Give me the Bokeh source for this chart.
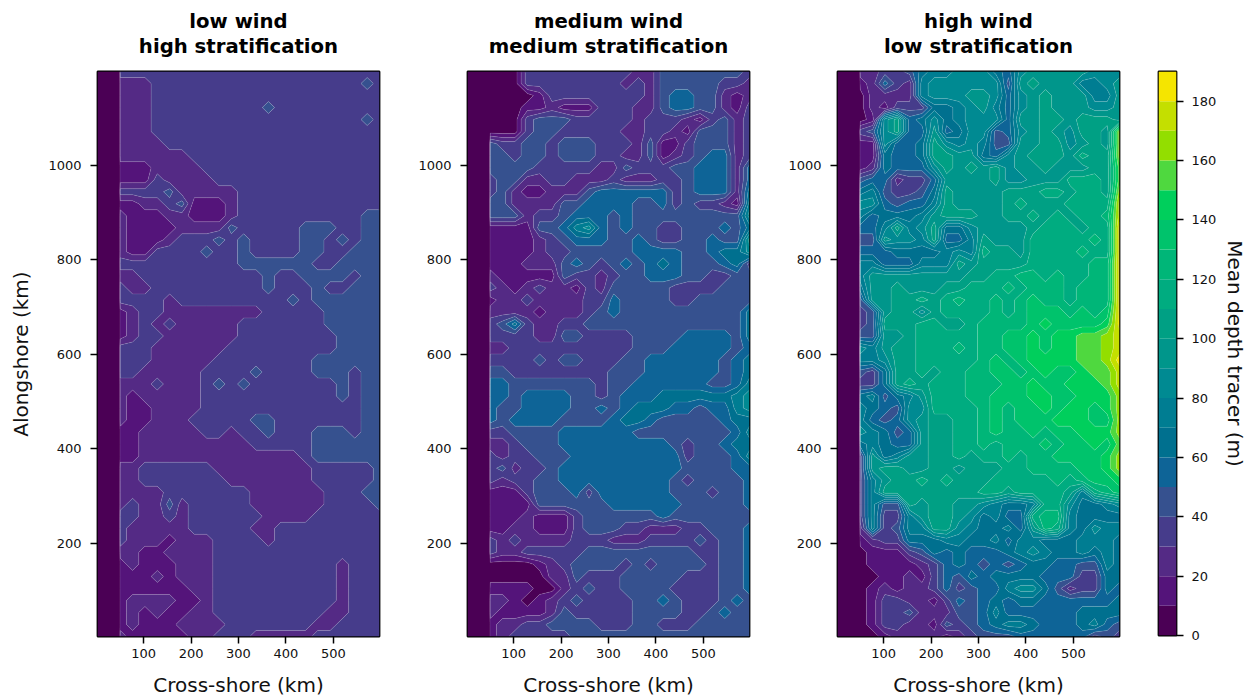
import numpy as np
from bokeh.embed import file_html
from bokeh.layouts import row
from bokeh.models import Range1d, Title, FixedTicker
from bokeh.plotting import figure
from bokeh.resources import INLINE

LEVELS = list(range(0, 200, 10))
PALETTE = ["#4B0055", "#54147A", "#542A85", "#463C8B", "#36518F", "#0E6497", "#00708F",
           "#007D92", "#008A92", "#00968B", "#00A084", "#00AC80", "#00B678", "#00C36C",
           "#00CF5C", "#4FD83F", "#93DE00", "#C4DF00", "#F5E500"]
TITLES = [("low wind", "high stratification"), ("medium wind", "medium stratification"),
          ("high wind", "low stratification")]
X_TICKS = [100, 200, 300, 400, 500]
Y_TICKS = [200, 400, 600, 800, 1000]
CB_TICKS = list(range(0, 200, 20))

# depth bands, top row first (one base-36 digit per cell = band number)
LOW = """
0033 3333 3333 3333 3333 3333
0022 2333 3333 3333 3333 3343
0022 2333 3333 3333 3333 3333
0022 2333 3333 3343 3333 3333
0022 2333 3333 3333 3333 3343
0022 2333 3333 3333 3333 3333
0022 2233 3333 3333 3333 3333
0022 2222 3333 3333 3333 3333
0011 1222 2333 3333 3333 3333
0011 1322 2233 3333 3333 3333
0033 3342 2222 3333 3333 3333
0011 2234 1112 3333 3333 3333
0021 1122 1112 3333 3333 3344
0021 1112 2224 3333 3444 3344
0021 1123 3343 4333 3443 4344
0021 1333 3433 4333 3443 3444
0033 3333 3333 4444 4433 4444
0022 3333 3333 3343 3444 4344
0032 2333 3333 3343 3343 3444
0033 3323 3333 3333 4344 4444
0012 3322 2222 2233 3334 4444
0012 3232 2222 3333 3334 4444
0012 3322 2222 3333 3333 4444
0033 3222 2223 3333 3333 4444
0033 3222 2233 3333 3344 4444
0033 2222 2333 3433 3344 4344
0022 2322 2343 4333 3333 4344
0021 2222 2333 3333 3333 4344
0021 1222 2333 3333 3333 3344
0021 1222 3333 3443 3333 3344
0011 2222 2332 3343 3344 4344
0011 2222 2222 2333 3344 4444
0011 2222 2222 2222 2344 4444
0022 3333 3322 2222 2233 3334
0022 3333 3332 2222 2233 3334
0022 2233 3333 3222 2223 3344
0023 2242 3333 3222 2223 3334
0033 2232 3333 3322 2233 3333
0032 2222 3333 3223 3333 3333
0032 2212 2233 3323 3333 3333
0022 1122 2233 3333 3333 3333
0012 1112 2233 3333 3333 2333
0011 1212 2233 3333 3333 2333
0011 1111 2233 3333 3333 2333
0012 2221 1233 3333 3333 2333
0012 1211 2233 3333 3332 2333
0012 1112 2223 3333 3322 3333
0021 1111 2233 3222 2233 3333
"""
MEDIUM = """
0000 0333 3333 3322 4444 4443
0000 0333 3333 3232 4444 4332
0000 0013 3333 3332 4554 4212
0000 0112 1113 3322 4554 4213
0000 0344 4333 3323 3321 3423
0000 0344 3333 3223 3214 4423
0043 3443 4443 3324 1134 4423
0044 3443 4443 3224 1234 5523
0044 4433 3332 2433 3445 5525
0034 4223 3222 3222 3345 5525
0034 2112 2245 5555 5345 5526
0044 2222 4455 5544 5343 3217
0044 4233 4555 4544 4444 4448
0011 1144 5785 4544 3344 4546
0011 1123 4555 4454 3344 5449
0011 1123 3444 4455 5544 5668
0011 1222 4543 4545 6544 4563
0021 1111 4332 3445 5544 3344
0032 1232 2132 4444 4333 3444
0012 2322 2233 5444 4334 4444
0022 2212 2234 5444 4444 4446
0034 6322 3344 4444 4444 4446
0033 3322 4433 3344 4455 5546
0022 3333 3333 3344 4555 5545
0033 3343 4433 3445 5555 5456
0044 3333 3333 4445 5555 5456
0055 4444 4443 4455 5555 4457
0055 4555 5443 4555 6666 6678
0054 4555 5445 4566 6554 5578
0054 5555 4444 5665 4444 4566
0033 4444 5555 5544 4444 4457
0022 3444 5555 5555 5434 4566
0032 3344 4555 5555 5534 4457
0034 2334 5555 5555 5544 4455
0032 3344 5555 5555 5434 4445
0011 1344 4535 5555 5444 3445
0011 1144 4444 5555 5544 4445
0011 1211 1344 4444 5444 4444
0011 2211 1344 4332 2233 4445
0032 3222 2333 2223 3334 3445
0032 2333 3344 4444 4443 3445
0000 0012 3444 4343 4444 3445
0000 0002 2433 3444 4433 3445
0011 1100 2343 3444 4333 3445
0022 1012 3433 3344 5433 3454
0021 1112 4333 3344 4433 4544
0012 2334 4443 3344 3334 4444
0012 3333 3444 4444 4444 4444
"""
HIGH = """
0022 3346 7788 8658 9999 9888
0012 5327 8888 8849 a999 7789
0002 2227 8889 9858 9a99 9779
0002 1333 6678 9758 9a99 9889
0001 8a56 8678 8859 9aa9 aaa9
0034 8a55 9568 8458 9a98 aa9g
0011 8556 a878 7449 9aa8 9a9g
0011 6556 aa99 6589 aaa9 baag
0012 6555 8a9a 9a89 9a99 9aaf
0045 5233 5999 9a88 999b bbaf
0067 4334 6a99 99aa abba bbag
0088 5455 7a99 99ab aaab bbbh
0075 6667 9aaa 99aa baba bbch
0055 7a78 a668 9999 abbb abbi
0044 9887 a557 a999 bbbb bcbi
0055 5666 6787 baa9 bbbb cbbi
0077 5557 77a9 aaaa bbbb bcci
0079 9999 999a abbc cbcb bcci
0069 9a99 9aab bbcb cccb ccci
0049 9aab abcb bcbc dccb ccci
0034 9aa8 abbb bcbc dddc dcdi
0034 aaab baab cccc dedd ddei
0044 99ab bbbb ccdd edee ffgh
0087 9aab bbcb ccdd edee ffgh
0077 8aab bbbb cdcd eeee ffgi
0043 6aab abbc cddc dedd effh
0033 6aba bbbc ccdd edde eefh
0067 4679 bbbc cddd eedd eeeg
0076 5488 bbbb cdcd dede edeg
0075 4589 aabb cdcd ddee eddg
0087 6459 aabb cdcc dcdd eeeg
0067 6559 aabb cbcc cdcd dedf
0039 6799 aaba bbcb ccdd ddeg
0039 aa99 aa9a aabb cccc ddeg
0037 9aab abaa abbb bbcb cdde
0037 aaaa aaaa bbab bbba 7bcd
0037 44a9 aa99 8766 7bb8 6678
0037 3379 aa98 6755 bcc7 6666
0027 3477 aa87 6675 9cb7 6877
0012 3366 6776 6757 7666 7776
0001 1134 6565 5567 8766 7676
0001 1112 3565 4545 6655 4476
0000 1121 3546 5666 6555 3366
0001 2122 3534 5578 8642 3365
0001 3322 1354 5656 6555 5556
0001 3342 2244 5755 5555 6666
0001 3322 1434 5677 6555 6754
0000 1222 2123 4445 5555 5343
"""


def field(text):
    rows = [r.replace(" ", "") for r in text.split("\n") if r.strip()]
    assert all(len(r) == 24 for r in rows), [len(r) for r in rows]
    assert len(rows) == 48, len(rows)
    return np.array([[int(c, 36) * 10 + 5 for c in r] for r in rows[::-1]], dtype=float)


XS = np.r_[2.5, 49.5, np.linspace(50.5, 597.5, 22)]
YS = np.linspace(3, 1199, 48)
FONT = "DejaVu Sans"


def style_axis(ax, ticks, label="", label_standoff=8, tick_standoff=5):
    ax.ticker = FixedTicker(ticks=ticks)
    ax.axis_label = label
    ax.axis_label_text_font = FONT
    ax.axis_label_text_font_size = "20px"
    ax.axis_label_text_font_style = "normal"
    ax.axis_label_text_color = "#111111"
    ax.axis_label_standoff = label_standoff
    ax.major_label_text_font = FONT
    ax.major_label_text_font_size = "13px"
    ax.major_label_text_color = "#111111"
    ax.major_label_standoff = tick_standoff
    ax.major_tick_line_color = "black"
    ax.major_tick_line_width = 1.5
    ax.major_tick_in = 0
    ax.major_tick_out = 7
    ax.minor_tick_line_color = None
    ax.axis_line_color = None


def panel(text, titles, ylabel, left, right):
    p = figure(frame_width=282, frame_height=565, output_backend="svg", toolbar_location=None,
               x_range=Range1d(2.5, 597.5), y_range=Range1d(3, 1199),
               min_border_left=left, min_border_right=right, min_border_top=70, min_border_bottom=61,
               background_fill_color=None)
    p.grid.visible = False
    p.outline_line_color = "black"
    p.outline_line_width = 1.8
    p.contour(XS, YS, field(text), levels=LEVELS, fill_color=PALETTE,
              line_color="#ffffff", line_alpha=0.25, line_width=0.5)
    style_axis(p.xaxis[0], X_TICKS, "Cross-shore (km)", 12, 5)
    style_axis(p.yaxis[0], Y_TICKS, ylabel, 12, 9)
    for i, line in enumerate(reversed(titles)):
        p.add_layout(Title(text=line, align="center", text_font=FONT, text_font_size="19.7px",
                           text_font_style="bold", text_color="black",
                           standoff=-27 if i else 27), "above")
    return p


p1 = panel(LOW, TITLES[0], "Alongshore (km)", 97, 30)
p2 = panel(MEDIUM, TITLES[1], "", 58, 30)
p3 = panel(HIGH, TITLES[2], "", 58, 30)

cb = figure(frame_width=18, frame_height=564, output_backend="svg", toolbar_location=None,
            x_range=Range1d(0, 1), y_range=Range1d(0, 190), y_axis_location="right",
            min_border_left=9, min_border_right=73, min_border_top=71, min_border_bottom=61)
cb.grid.visible = False
cb.xaxis.visible = False
cb.outline_line_color = "black"
cb.outline_line_width = 1.8
cb.quad(left=0, right=1, bottom=LEVELS[:-1], top=LEVELS[1:], fill_color=PALETTE, line_color=None)
style_axis(cb.yaxis[0], CB_TICKS, "Mean depth tracer (m)", 4, 8)
cb.yaxis[0].axis_label_orientation = "vertical"

page = row(p1, p2, p3, cb, spacing=0)
open("out.html", "w").write(file_html(page, INLINE))
